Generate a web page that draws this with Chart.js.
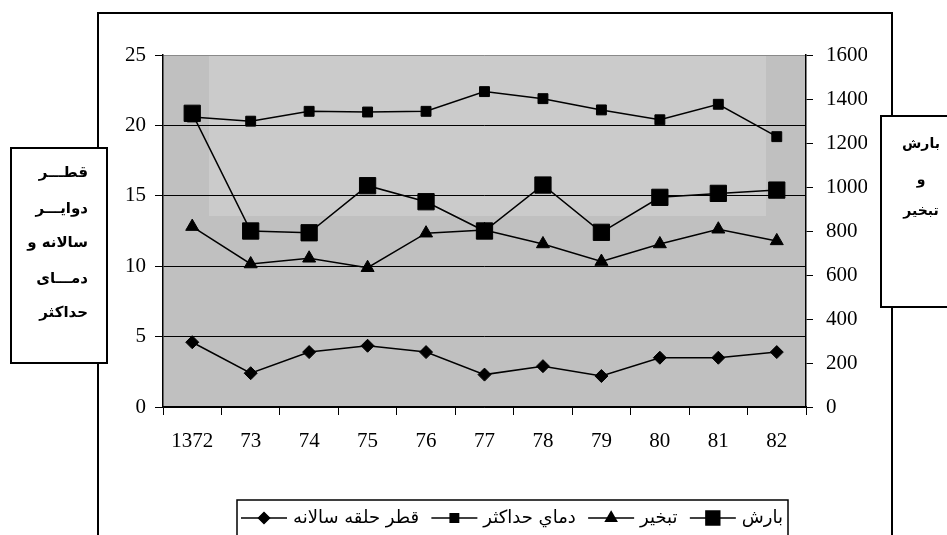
<!DOCTYPE html>
<html><head><meta charset="utf-8">
<script src="https://cdn.jsdelivr.net/npm/chart.js@4/dist/chart.umd.min.js"></script>
<style>html,body{margin:0;padding:0;background:#fff;overflow:hidden}canvas{display:block}</style>
</head><body>
<canvas id="c" width="947" height="535"></canvas>
<script>
const years = ['1372','73','74','75','76','77','78','79','80','81','82'];
const ringDiameter = [4.6, 2.4, 3.9, 4.35, 3.9, 2.3, 2.9, 2.2, 3.5, 3.5, 3.9];
const maxTemp = [20.6, 20.3, 21.0, 20.95, 21.0, 22.4, 21.9, 21.1, 20.4, 21.5, 19.2];
const evaporation = [820, 650, 676, 633, 790, 805, 741, 661, 741, 808, 755];
const rainfall = [1335, 800, 792, 1006, 933, 800, 1009, 794, 953, 971, 986];
const leftTicks = [0, 5, 10, 15, 20, 25];
const rightTicks = [0, 200, 400, 600, 800, 1000, 1200, 1400, 1600];
const labels = ['قطر حلقه سالانه', 'دماي حداکثر', 'تبخير', 'بارش'];
const leftTitle = ['قطـــر', 'دوايـــر', 'سالانه و', 'دمـــاى', 'حداكثر'];
const rightTitle = ['بارش', 'و', 'تبخير'];

const serif = '"Liberation Serif", "Times New Roman", serif';
const arab = '"DejaVu Sans", "Liberation Sans", sans-serif';

const bgPlugin = {
  id: 'bg',
  beforeDraw(chart) {
    const {ctx, chartArea: a} = chart;
    ctx.save();
    ctx.fillStyle = '#c0c0c0';
    ctx.fillRect(a.left, a.top, a.width, a.height);
    ctx.fillStyle = '#cbcbcb';
    ctx.fillRect(209, a.top, 766 - 209, 216 - a.top);
    ctx.restore();
  }
};

const framePlugin = {
  id: 'frame',
  afterDraw(chart) {
    const ctx = chart.ctx;
    ctx.save();
    ctx.strokeStyle = '#000';
    ctx.lineWidth = 2;
    ctx.beginPath();
    ctx.moveTo(98, 535); ctx.lineTo(98, 13); ctx.lineTo(892, 13); ctx.lineTo(892, 535);
    ctx.stroke();
    ctx.fillStyle = '#fff';
    ctx.fillRect(11, 148, 96, 215);
    ctx.strokeRect(11, 148, 96, 215);
    ctx.fillRect(881, 116, 80, 191);
    ctx.strokeRect(881, 116, 80, 191);
    ctx.fillStyle = '#000';
    ctx.font = 'bold 15px ' + arab;
    ctx.direction = 'rtl';
    ctx.textAlign = 'right';
    ctx.textBaseline = 'middle';
    const ly = [173, 209, 243, 279, 313];
    leftTitle.forEach((t, i) => ctx.fillText(t, 88, ly[i]));
    ctx.textAlign = 'center';
    ctx.font = 'bold 14px ' + arab;
    const ry = [144, 180, 211];
    rightTitle.forEach((t, i) => ctx.fillText(t, 921, ry[i]));
    // legend
    ctx.direction = 'ltr';
    ctx.lineWidth = 1.5;
    ctx.strokeRect(237, 500, 551, 45);
    ctx.font = '18px ' + arab;
    const dss = chart.data.datasets;
    const widths = dss.map(d => ctx.measureText(d.label).width);
    const seg = 46, g1 = 6;
    const x0 = 241, x1 = 783;
    const gap = (x1 - x0 - widths.reduce((a, b) => a + b, 0) - dss.length * (seg + g1)) / (dss.length - 1);
    let x = x0;
    const cy = 518;
    dss.forEach((ds, i) => {
      ctx.strokeStyle = '#000';
      ctx.lineWidth = 1.5;
      ctx.beginPath(); ctx.moveTo(x, cy); ctx.lineTo(x + seg, cy); ctx.stroke();
      Chart.helpers.drawPoint(ctx, {pointStyle: ds.pointStyle, radius: ds.pointRadius * 0.85, rotation: 0, borderWidth: 1}, x + seg / 2, cy);
      ctx.fillStyle = '#000';
      ctx.fill();
      x += seg + g1;
      ctx.direction = 'rtl';
      ctx.textAlign = 'right';
      ctx.fillText(ds.label, x + widths[i], cy);
      ctx.direction = 'ltr';
      x += widths[i] + gap;
    });
    ctx.restore();
  }
};

const mkDs = (label, data, axis, style, r) => ({
  label, data, yAxisID: axis, borderColor: '#000', backgroundColor: '#000',
  borderWidth: 1.5, pointStyle: style, pointRadius: r, pointHoverRadius: r,
  pointBackgroundColor: '#000', pointBorderColor: '#000', pointBorderWidth: 1, tension: 0
});

new Chart(document.getElementById('c'), {
  type: 'line',
  data: {
    labels: years,
    datasets: [
      mkDs(labels[0], ringDiameter, 'yL', 'rectRot', 6.5),
      mkDs(labels[1], maxTemp, 'yL', 'rect', 7),
      mkDs(labels[2], evaporation, 'yR', 'triangle', 7.5),
      mkDs(labels[3], rainfall, 'yR', 'rect', 11.5)
    ]
  },
  options: {
    responsive: false,
    animation: false,
    devicePixelRatio: 1,
    layout: {padding: {left: 100, right: 80, top: 55, bottom: 78}},
    plugins: {legend: {display: false}, tooltip: {enabled: false}},
    scales: {
      x: {
        offset: true,
        grid: {offset: true, drawOnChartArea: false, color: '#000', tickLength: 8, lineWidth: 1},
        border: {color: '#000', width: 1.5},
        ticks: {color: '#000', font: {family: serif, size: 21}, padding: 14, maxRotation: 0, autoSkip: false},
        afterFit(s) { s.height = 50; }
      },
      yL: {
        position: 'left', min: 0, max: 25,
        afterBuildTicks(s) { s.ticks = leftTicks.map(v => ({value: v})); },
        grid: {color: ctx => ctx.tick && ctx.tick.value === 25 ? '#8a8a8a' : '#000', tickColor: '#000', tickLength: 8, lineWidth: 1},
        border: {color: '#000', width: 1.5},
        ticks: {color: '#000', font: {family: serif, size: 21}, padding: 9, callback: v => String(v)},
        afterFit(s) { s.width = 63; }
      },
      yR: {
        position: 'right', min: 0, max: 1600,
        afterBuildTicks(s) { s.ticks = rightTicks.map(v => ({value: v})); },
        grid: {drawOnChartArea: false, color: '#000', tickLength: 7, lineWidth: 1},
        border: {color: '#000', width: 1.5},
        ticks: {color: '#000', font: {family: serif, size: 21}, padding: 13, callback: v => String(v)},
        afterFit(s) { s.width = 61; }
      }
    }
  },
  plugins: [bgPlugin, framePlugin]
});
</script>
</body></html>
